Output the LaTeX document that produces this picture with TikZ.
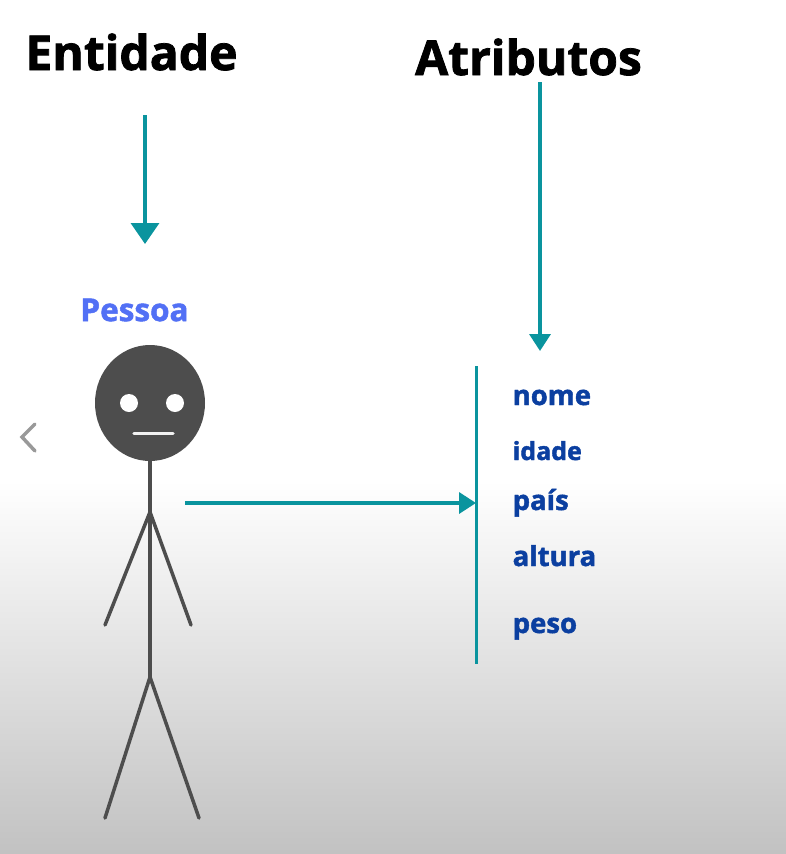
\documentclass[tikz,border=0pt]{standalone}
\usepackage{fontspec}
\setmainfont{Open Sans}[BoldFeatures={FakeBold=1.6}]
\usetikzlibrary{arrows.meta,shapes.geometric}
\definecolor{tealc}{HTML}{0A949E}
\definecolor{bodyc}{HTML}{4D4D4D}
\definecolor{attrc}{HTML}{0B3FA0}
\definecolor{pessoac}{HTML}{5270F5}
\tikzset{
  heading/.style={font=\bfseries\fontsize{48}{48}\selectfont, text=black, inner sep=0pt},
  attrlabel/.style={font=\bfseries\fontsize{27.5}{27.5}\selectfont, text=attrc, anchor=base west, inner sep=0pt},
  tealarrow/.style={draw=tealc, line width=3.5pt, -{Triangle[length=21pt,width=28pt]}},
  tealarrowsmall/.style={draw=tealc, line width=3.5pt, -{Triangle[length=17pt,width=21pt]}},
  limb/.style={draw=bodyc, line width=3.5pt, line cap=round},
}
\begin{document}
\begin{tikzpicture}[x=1pt,y=-1pt]
\useasboundingbox (0,0) rectangle (786,854);
\fill[white] (0,0) rectangle (786,854);
\shade[top color=white, bottom color=black!24] (0,480) rectangle (786,854);
\node[heading] (ent) at (131.5,52) {Entidade};
\node[heading] (atr) at (528.5,57) {Atributos};
\coordinate (a1s) at (145,115);
\coordinate (a1e) at (145,244);
\draw[tealarrow] (a1s) -- (a1e);
\coordinate (a2s) at (540,82);
\coordinate (a2e) at (540,351);
\draw[tealarrowsmall] (a2s) -- (a2e);
\node[font=\bfseries\fontsize{31.5}{31.5}\selectfont, text=pessoac, inner sep=0pt] (pes) at (134.5,310) {Pessoa};
% figure
\node[ellipse, fill=bodyc, minimum width=110pt, minimum height=116pt, inner sep=0pt] (head) at (150,403) {};
\node[circle, fill=white, minimum size=18pt, inner sep=0pt] (eyeL) at (129,403) {};
\node[circle, fill=white, minimum size=18pt, inner sep=0pt] (eyeR) at (175,403) {};
\coordinate (mouthL) at (134,433.5);
\coordinate (mouthR) at (173,433.5);
\draw[draw=white!95!black, line width=3.5pt, line cap=round] (mouthL) -- (mouthR);
\coordinate (hip) at (150,677);
\coordinate (sho) at (150,512);
\coordinate (handL) at (105,625);
\coordinate (handR) at (191,625);
\coordinate (footL) at (105,818);
\coordinate (footR) at (199,818);
\draw[limb] (head.south) -- (hip);
\draw[limb] (handL) -- (sho) -- (handR);
\draw[limb] (footL) -- (hip) -- (footR);
% attributes
\coordinate (barT) at (476.5,366);
\coordinate (barB) at (476.5,664);
\draw[draw=tealc, line width=3.5pt] (barT) -- (barB);
\coordinate (a3s) at (185,503);
\coordinate (a3e) at (476,503);
\draw[tealarrowsmall] (a3s) -- (a3e);
\node[attrlabel] (nome) at (512.5,405) {nome};
\node[attrlabel, font=\bfseries\fontsize{25}{25}\selectfont] (idade) at (512.5,460) {idade};
\node[attrlabel] (pais) at (512.5,510) {país};
\node[attrlabel] (alt) at (512.5,566) {altura};
\node[attrlabel] (peso) at (512.5,633) {peso};
% chevron
\coordinate (c1) at (35,424);
\coordinate (c2) at (22,437);
\coordinate (c3) at (35,451);
\draw[draw=black!40, line width=3.5pt, line cap=round] (c1) -- (c2) -- (c3);
\end{tikzpicture}
\end{document}
